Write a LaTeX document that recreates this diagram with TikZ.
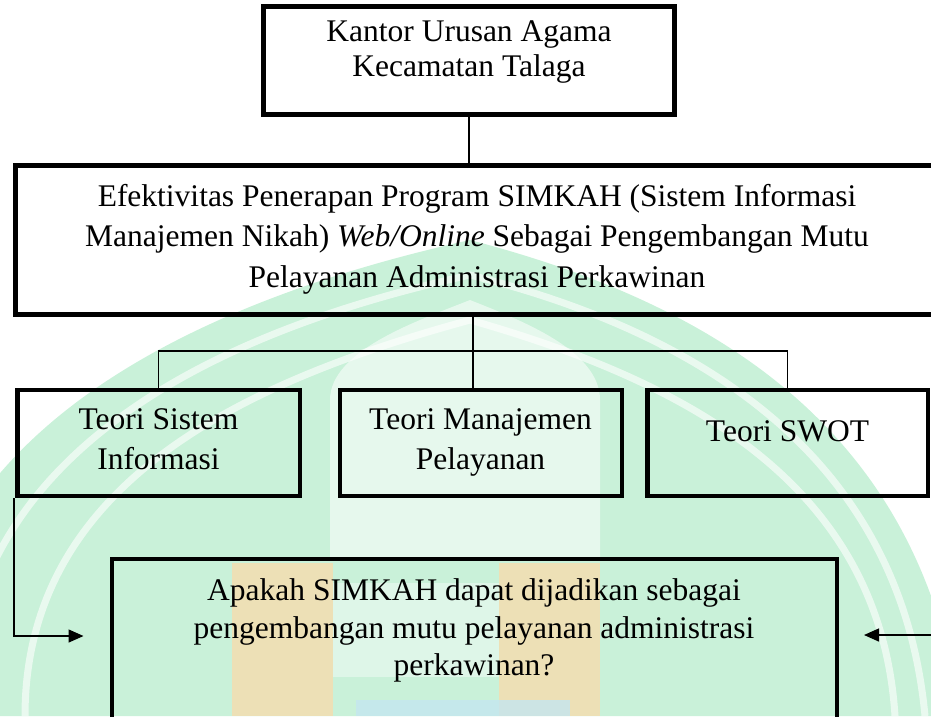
\documentclass[tikz,border=0pt]{standalone}
\usepackage{fontspec}
\setmainfont{Liberation Serif}
\usetikzlibrary{arrows.meta}
\definecolor{wmgreen}{HTML}{C9F1D9}
\definecolor{wmorange}{HTML}{F6DCAE}
\definecolor{wmblue}{HTML}{C4E6F0}
\begin{document}
\begin{tikzpicture}[x=1pt,y=-1pt,
  box/.style={draw=black, line width=4.5pt, rectangle, inner sep=0pt},
  txt/.style={inner sep=0pt, align=center, anchor=north},
  conn/.style={line width=1.4pt, draw=black},
  arr/.style={conn, -{Triangle[length=15pt,width=13pt]}},
  wmline/.style={white, line width=7pt, opacity=0.6}]
\useasboundingbox (0,0) rectangle (931,716);
\clip (0,0) rectangle (931,716);
% faint watermark in the background
\fill[wmgreen] (-90,716) .. controls (-90,430) and (200,300) .. (470,240)
  .. controls (700,300) and (920,420) .. (960,716) -- cycle;
\draw[wmline] (25,716) .. controls (25,480) and (250,380) .. (470,320)
  .. controls (680,380) and (880,480) .. (895,716);
\draw[wmline] (-40,716) .. controls (-40,450) and (220,330) .. (470,275)
  .. controls (690,330) and (900,450) .. (925,716);
\fill[white, opacity=0.55] (330,560) -- (330,400) .. controls (330,350) and (420,320) .. (470,300)
  .. controls (520,320) and (600,350) .. (600,400) -- (600,560) -- cycle;
\fill[wmorange, opacity=0.8] (232,563) rectangle (333,716);
\fill[wmorange, opacity=0.8] (499,563) rectangle (600,716);
\fill[white, opacity=0.4] (333,583) rectangle (499,677);
\fill[wmblue, opacity=0.8] (356,700) rectangle (570,716);
% boxes
\node[box, minimum width=411pt, minimum height=108pt] (top) at (469,60.5) {};
\node[box, minimum width=923pt, minimum height=149pt] (mid) at (477,240) {};
\node[box, minimum width=282.5pt, minimum height=106pt] (s1) at (158.75,443) {};
\node[box, minimum width=282pt, minimum height=106pt] (s2) at (481,443) {};
\node[box, minimum width=280.5pt, minimum height=106pt] (s3) at (787.75,443) {};
\node[box, minimum width=725pt, minimum height=221pt] (q) at (474.25,669.5) {};
% texts
\node[txt, font=\fontsize{31.5}{35}\selectfont] (toptx) at (469,20.7)
  {Kantor Urusan Agama\\Kecamatan Talaga};
\node[txt, font=\fontsize{31.5}{40.5}\selectfont] (midtx) at (477,184.1)
  {Efektivitas Penerapan Program SIMKAH (Sistem Informasi\\Manajemen Nikah) \textit{Web/Online} Sebagai Pengembangan Mutu\\Pelayanan Administrasi Perkawinan};
\node[txt, font=\fontsize{31.5}{40}\selectfont] (s1tx) at (158.5,408.5) {Teori Sistem\\Informasi};
\node[txt, font=\fontsize{31.5}{40}\selectfont] (s2tx) at (480.5,408.5) {Teori Manajemen\\Pelayanan};
\node[txt, font=\fontsize{31.5}{40}\selectfont] (s3tx) at (787.5,420.8) {Teori SWOT};
\node[txt, font=\fontsize{31.5}{37.5}\selectfont] (qtx) at (474,578.5)
  {Apakah SIMKAH dapat dijadikan sebagai\\pengembangan mutu pelayanan administrasi\\perkawinan?};
% connectors
\coordinate (hub) at (473,351);
\coordinate (ly) at (0,636);
\coordinate (rin) at (945,635);
\draw[conn] (top.south) -- (top.south |- mid.north);
\draw[conn] (hub |- mid.south) -- (hub |- s2.north);
\draw[conn] (s1.north) |- (hub) -| (s3.north);
\draw[arr, shorten >=26pt] ([xshift=-1.2pt]s1.south west) |- (q.west |- ly);
\draw[arr, shorten >=25pt] (rin) -- (q.east |- rin);
\end{tikzpicture}
\end{document}
